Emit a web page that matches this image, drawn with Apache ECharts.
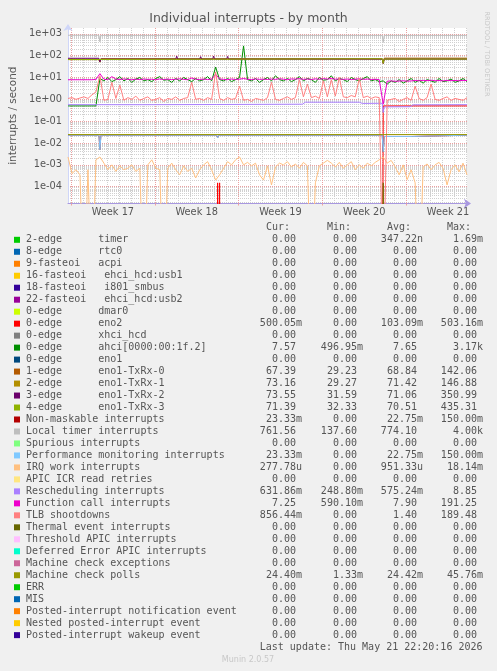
<!DOCTYPE html>
<html>
<head>
<meta charset="utf-8">
<title>Individual interrupts - by month</title>
<script src="https://cdn.jsdelivr.net/npm/echarts@6/dist/echarts.min.js"></script>
<style>
  html, body { margin: 0; padding: 0; background: #f0f0f0; }
  #chart { width: 497px; height: 671px; }
</style>
</head>
<body>
<div id="chart"></div>
<script>
// x values are hours since the left edge of the graph (2 h per pixel)
const weekStarts = [6, 174, 342, 510, 678]
const weekMids = [90, 258, 426, 594, 762]
const weekLabels = ['Week 17', 'Week 18', 'Week 19', 'Week 20', 'Week 21']
const decades = [1e-4, 1e-3, 1e-2, 1e-1, 1, 10, 100, 1000]

// dense series: one sample every 8 hours
const hours = []
for (let h = 0; h <= 800; h += 8) hours.push(h)

const ahciRate = [
  0.5, 0.5, 0.5, 0.5, 0.5, 0.5, 0.5, 0.5, 9, 7,
  10, 6.5, 8, 11, 7, 9, 6, 8.5, 10, 7,
  8, 6.5, 9, 11, 7.5, 8, 6, 9, 7, 10,
  8, 6.5, 9, 7, 8, 11, 7, 30, 8, 7,
  9, 6.5, 8, 10, 280, 8, 7, 9, 6, 8,
  10, 7, 12, 8, 7, 9, 6.5, 8, 11, 7,
  9, 8, 6, 10, 7.5, 8, 12, 7, 9, 8,
  6.5, 10, 8, 7, 9, 11, 7, 8, 6.5, 7,
  5, 7, 6, 8, 5.5, 7, 9, 6, 7.5, 5.5,
  8, 7, 6, 9, 6.5, 7, 8.5, 6, 7, 9,
  6.5
]
const funcCallRate = [
  7.9, 7.9, 7.9, 7.9, 7.9, 7.9, 7.9, 8.2, 15, 8.3,
  8.0, 11, 8.4, 8.1, 8.6, 8.2, 7.9, 8.4, 8.0, 8.5,
  8.2, 8.3, 7.9, 8.6, 8.1, 8.4, 8.0, 8.3, 8.7, 8.2,
  7.9, 9.5, 8.3, 8.1, 8.5, 8.0, 8.4, 14, 8.6, 8.2,
  8.0, 8.5, 8.1, 8.4, 9.0, 8.3, 8.0, 8.6, 8.2, 8.4,
  8.1, 8.5, 8.2, 8.8, 8.3, 8.0, 8.6, 8.4, 9.0, 8.2,
  8.5, 8.1, 8.7, 8.3, 8.9, 8.4, 9.2, 8.3, 8.6, 8.2,
  8.5, 8.0, 8.4, 8.7, 8.2, 8.5, 8.1, 8.3, 8.0, 0.6,
  6.8, 7.0, 6.7, 6.9, 7.1, 6.8, 7.0, 7.3, 7.1, 7.4,
  7.2, 7.5, 7.1, 7.3, 7.0, 7.4, 7.2, 7.3, 7.1, 7.4,
  7.25
]
const tlbRate = [
  1.1, 1.2, 1.0, 1.15, 1.3, 1.1, 1.6, 2.2, 12, 0.9,
  1.0, 6, 1.1, 4.5, 0.9, 1.2, 1.0, 1.4, 0.9, 1.1,
  1.3, 0.9, 1.0, 1.2, 0.8, 1.1, 1.0, 1.3, 0.9, 1.1,
  1.2, 6, 1.0, 1.1, 0.9, 1.2, 1.0, 18, 1.1, 0.9,
  1.2, 1.0, 1.1, 4, 0.9, 1.0, 0.8, 1.1, 1.0, 0.9,
  1.2, 6, 1.0, 0.9, 1.1, 1.3, 1.0, 1.2, 8, 1.3,
  5, 1.2, 1.4, 1.1, 7, 1.3, 8, 1.4, 10, 1.3,
  1.2, 1.5, 1.3, 9, 1.2, 1.4, 1.1, 1.3, 1.2, 0,
  0.9, 1.0, 1.1, 0.8, 1.0, 1.2, 0.9, 4, 1.1, 0.9,
  1.2, 5, 1.0, 0.9, 1.1, 1.3, 0.9, 1.1, 1.0, 0.9,
  1.2
]
const irqWorkRate = [
  2.3e-3, 4e-4, 6e-4, 3.5e-4, 0, 6e-4, 0, 1.7e-3, 2.3e-3, 1.2e-3,
  6e-4, 1e-3, 5e-4, 9e-4, 6e-4, 7e-4, 1e-3, 5e-4, 7e-4, 0,
  1e-3, 1.7e-3, 7e-4, 6e-4, 0, 7e-4, 1.2e-3, 6e-4, 3.5e-4, 9e-4,
  5e-4, 7e-4, 2.5e-4, 6e-4, 1e-3, 1.4e-3, 6e-4, 2e-4, 3.5e-4, 7e-4,
  1.4e-3, 1e-3, 1.7e-3, 2.3e-3, 1e-3, 1.3e-3, 9e-4, 1.2e-3, 3.5e-4, 2e-4,
  9e-4, 1.2e-4, 8e-4, 1.2e-3, 1e-3, 1.4e-3, 8e-4, 1.1e-3, 7e-4, 1.3e-3,
  9e-4, 0, 1.5e-4, 9e-4, 1.2e-3, 1.6e-3, 1.2e-3, 8e-4, 1.3e-3, 7e-4,
  1e-3, 1.4e-3, 6e-4, 1e-3, 7e-4, 1.2e-3, 9e-4, 1.3e-3, 1.7e-3, 2.3e-3,
  1.2e-3, 1.6e-3, 8e-4, 3.5e-4, 1e-3, 2.1e-4, 6e-4, 1.5e-4, 0, 8e-4,
  1.1e-3, 6e-4, 1e-3, 1.3e-3, 7e-4, 1.2e-4, 6e-4, 1e-3, 4.8e-4, 1.2e-3,
  3.5e-4
]

// sparse series: [hour, value]
const timerPts = [[0, 0], [630, 0], [632, 1.5e-4], [634, 0], [800, 0]]
const eno2Pts = [[0, 0], [299, 0], [300, 1.5e-4], [301, 0], [303, 0], [304, 1.5e-4], [305, 0], [631, 0], [632, 0.5], [800, 0.5]]
const txrx0Pts = [[0, 68], [62, 68], [64, 52], [66, 71], [630, 71], [632, 45], [634, 77], [800, 77]]
const txrx1Pts = [[0, 66], [62, 66], [64, 50], [66, 71], [630, 71], [632, 44], [634, 70], [800, 70]]
const txrx2Pts = [[0, 76], [62, 76], [64, 52], [66, 70], [216, 70], [218, 95], [220, 70], [264, 70], [266, 90], [268, 70],
  [290, 70], [292, 95], [294, 70], [318, 70], [320, 92], [322, 70], [384, 70], [386, 80], [388, 70], [414, 70], [416, 80],
  [418, 70], [630, 70], [632, 44], [634, 70], [800, 70]]
const txrx3Pts = [[0, 67], [62, 67], [64, 55], [66, 72], [630, 72], [632, 45], [634, 70], [800, 70]]
const nmiPts = [[0, 0.0228], [62, 0.0228], [64, 0.005], [66, 0.0228], [298, 0.0228], [300, 0.017], [302, 0.0228],
  [630, 0.0228], [632, 0.004], [634, 0.02], [690, 0.02], [692, 0.0228], [800, 0.0228]]
const locPts = [[0, 860], [62, 860], [64, 430], [66, 850], [298, 850], [300, 720], [302, 850], [630, 850], [632, 400], [634, 850], [800, 850]]
const reschedPts = [[0, 0.57], [62, 0.57], [64, 0.7], [66, 0.55], [150, 0.57], [298, 0.58], [300, 0.62], [302, 0.57],
  [470, 0.6], [476, 0.74], [584, 0.74], [590, 0.65], [630, 0.66], [632, 0.25], [634, 0.45], [686, 0.46], [692, 0.56], [800, 0.57]]
const mcpPts = [[0, 0.0244], [62, 0.0244], [64, 0.023], [66, 0.0244], [630, 0.0244], [632, 0.02], [634, 0.0244], [800, 0.0244]]

// legend table
const legendNames = [
  '2-edge      timer', '8-edge      rtc0', '9-fasteoi   acpi', '16-fasteoi   ehci_hcd:usb1',
  '18-fasteoi   i801_smbus', '22-fasteoi   ehci_hcd:usb2', '0-edge      dmar0', '0-edge      eno2',
  '0-edge      xhci_hcd', '0-edge      ahci[0000:00:1f.2]', '0-edge      eno1', '1-edge      eno1-TxRx-0',
  '2-edge      eno1-TxRx-1', '3-edge      eno1-TxRx-2', '4-edge      eno1-TxRx-3', 'Non-maskable interrupts',
  'Local timer interrupts', 'Spurious interrupts', 'Performance monitoring interrupts', 'IRQ work interrupts',
  'APIC ICR read retries', 'Rescheduling interrupts', 'Function call interrupts', 'TLB shootdowns',
  'Thermal event interrupts', 'Threshold APIC interrupts', 'Deferred Error APIC interrupts', 'Machine check exceptions',
  'Machine check polls', 'ERR', 'MIS', 'Posted-interrupt notification event',
  'Nested posted-interrupt event', 'Posted-interrupt wakeup event'
]
const legendColors = [
  '#00CC00', '#0066B3', '#FF8000', '#FFCC00', '#330099', '#990099', '#CCFF00', '#FF0000',
  '#808080', '#008F00', '#00487D', '#B35A00', '#B38F00', '#6B006B', '#8FB300', '#B30000',
  '#BEBEBE', '#80FF80', '#80C9FF', '#FFC080', '#FFE680', '#AA80FF', '#EE00CC', '#FF8080',
  '#666600', '#FFBFFF', '#00FFCC', '#CC6699', '#999900', '#00CC00', '#0066B3', '#FF8000',
  '#FFCC00', '#330099'
]
const curVals = ['0.00', '0.00', '0.00', '0.00', '0.00', '0.00', '0.00', '500.05m', '0.00', '7.57', '0.00', '67.39',
  '73.16', '73.55', '71.39', '23.33m', '761.56', '0.00', '23.33m', '277.78u', '0.00', '631.86m', '7.25', '856.44m',
  '0.00', '0.00', '0.00', '0.00', '24.40m', '0.00', '0.00', '0.00', '0.00', '0.00']
const minVals = ['0.00', '0.00', '0.00', '0.00', '0.00', '0.00', '0.00', '0.00', '0.00', '496.95m', '0.00', '29.23',
  '29.27', '31.59', '32.33', '0.00', '137.60', '0.00', '0.00', '0.00', '0.00', '248.80m', '590.10m', '0.00',
  '0.00', '0.00', '0.00', '0.00', '1.33m', '0.00', '0.00', '0.00', '0.00', '0.00']
const avgVals = ['347.22n', '0.00', '0.00', '0.00', '0.00', '0.00', '0.00', '103.09m', '0.00', '7.65', '0.00', '68.84',
  '71.42', '71.06', '70.51', '22.75m', '774.10', '0.00', '22.75m', '951.33u', '0.00', '575.24m', '7.90', '1.40',
  '0.00', '0.00', '0.00', '0.00', '24.42m', '0.00', '0.00', '0.00', '0.00', '0.00']
const maxVals = ['1.69m', '0.00', '0.00', '0.00', '0.00', '0.00', '0.00', '503.16m', '0.00', '3.17k', '0.00', '142.06',
  '146.88', '350.99', '435.31', '150.00m', '4.00k', '0.00', '150.00m', '18.14m', '0.00', '8.85', '191.25', '189.48',
  '0.00', '0.00', '0.00', '0.00', '45.76m', '0.00', '0.00', '0.00', '0.00', '0.00']

const SANS = '"DejaVu Sans"'
const MONO = '"DejaVu Sans Mono"'
const Y_MIN = 1.7e-5
const Y_MAX = 1850
const FLOOR = 1e-9 // zero can't be shown on a log axis, push it below the plot

function dense(values) {
  return hours.map((h, i) => [h, values[i] > 0 ? values[i] : FLOOR])
}
function sparse(points) {
  return points.map(p => [p[0], p[1] > 0 ? p[1] : FLOOR])
}

// legend index -> data
const plotted = [
  [0, sparse(timerPts)],
  [7, sparse(eno2Pts)],
  [9, dense(ahciRate)],
  [11, sparse(txrx0Pts)],
  [12, sparse(txrx1Pts)],
  [13, sparse(txrx2Pts)],
  [14, sparse(txrx3Pts)],
  [15, sparse(nmiPts)],
  [16, sparse(locPts)],
  [18, sparse(nmiPts)],
  [19, dense(irqWorkRate)],
  [21, sparse(reschedPts)],
  [22, dense(funcCallRate)],
  [23, dense(tlbRate)],
  [28, sparse(mcpPts)]
]

// grid line positions
const dayLines = []
for (let h = 6; h < 800; h += 24) dayLines.push(h)
const minorLines = []
for (let e = -5; e <= 3; e++) {
  for (let m = 2; m <= 9; m++) {
    const v = m * Math.pow(10, e)
    if (v > Y_MIN && v < Y_MAX) minorLines.push(v)
  }
}

function fmtExp(v) {
  return Number(v).toExponential(0).replace(/e([+-])(\d)$/, (m, s, d) => 'e' + s + '0' + d)
}
function withUnit(s) {
  return /\d$/.test(s) ? s + ' ' : s
}

const chart = echarts.init(document.getElementById('chart'))

const graphics = []
const colRight = [302, 363, 423, 483]
const headers = ['Cur:', 'Min:', 'Avg:', 'Max:']
const headerLeft = [266, 327, 387, 447]
headers.forEach((t, c) => {
  graphics.push({
    type: 'text', x: headerLeft[c], y: 227.5,
    style: { text: t, font: '10px ' + MONO, fill: '#555', verticalAlign: 'middle', textVerticalAlign: 'middle' }
  })
})
legendNames.forEach((name, i) => {
  const y = 239.8 + i * 11.98
  graphics.push({ type: 'rect', shape: { x: 14, y: y - 3, width: 6, height: 6 }, style: { fill: legendColors[i] } })
  graphics.push({
    type: 'text', x: 26, y: y,
    style: { text: name, font: '10px ' + MONO, fill: '#555', verticalAlign: 'middle', textVerticalAlign: 'middle' }
  })
  const cols = [curVals, minVals, avgVals, maxVals]
  cols.forEach((col, c) => {
    graphics.push({
      type: 'text', x: colRight[c], y: y,
      style: {
        text: withUnit(col[i]), font: '10px ' + MONO, fill: '#555',
        align: 'right', textAlign: 'right', verticalAlign: 'middle', textVerticalAlign: 'middle'
      }
    })
  })
})
graphics.push({
  type: 'text', x: 482.5, y: 647.3,
  style: {
    text: 'Last update: Thu May 21 22:20:16 2026', font: '10px ' + MONO, fill: '#555',
    align: 'right', textAlign: 'right', verticalAlign: 'middle', textVerticalAlign: 'middle'
  }
})
graphics.push({
  type: 'text', x: 248, y: 660,
  style: {
    text: 'Munin 2.0.57', font: '8px ' + SANS, fill: '#c8c8c8',
    align: 'center', textAlign: 'center', verticalAlign: 'middle', textVerticalAlign: 'middle'
  }
})
graphics.push({
  type: 'text', x: 487, y: 54, rotation: -Math.PI / 2,
  style: {
    text: 'RRDTOOL / TOBI OETIKER', font: '6.6px ' + SANS, fill: '#c8c8c8',
    align: 'center', textAlign: 'center', verticalAlign: 'middle', textVerticalAlign: 'middle'
  }
})

const option = {
  animation: false,
  backgroundColor: '#f0f0f0',
  title: {
    text: 'Individual interrupts - by month',
    left: 'center',
    top: 7,
    textStyle: { fontFamily: SANS, fontSize: 12.5, fontWeight: 'normal', color: '#555' }
  },
  grid: {
    left: 67, top: 28, right: 30, bottom: 467.5,
    show: true, backgroundColor: '#ffffff', borderWidth: 0
  },
  xAxis: [
    {
      type: 'value', min: 0, max: 800, z: 0, position: 'bottom',
      axisLine: { show: false },
      axisTick: { show: false, customValues: dayLines },
      axisLabel: { show: false },
      splitLine: { show: true, lineStyle: { color: '#d0d0d0', type: [1, 1] } }
    },
    {
      type: 'value', min: 0, max: 800, z: 1, position: 'bottom',
      axisLine: {
        show: true, onZero: false, lineStyle: { color: '#a898e0' },
        symbol: ['none', 'arrow'], symbolSize: [7, 7], symbolOffset: [0, 4]
      },
      axisTick: { show: true, length: 2, lineStyle: { color: '#f0a0a0' }, customValues: weekStarts },
      axisLabel: {
        customValues: weekMids, margin: 4,
        formatter: v => weekLabels[weekMids.indexOf(v)],
        fontFamily: SANS, fontSize: 9.8, color: '#555'
      },
      splitLine: { show: true, lineStyle: { color: '#eba0a0', type: [1, 1] } }
    }
  ],
  yAxis: [
    {
      type: 'log', logBase: 10, min: Y_MIN, max: Y_MAX, z: 0, position: 'left',
      axisLine: { show: false },
      axisTick: { show: false, customValues: minorLines },
      axisLabel: { show: false },
      splitLine: { show: true, lineStyle: { color: '#d0d0d0', type: [1, 1] } }
    },
    {
      type: 'log', logBase: 10, min: Y_MIN, max: Y_MAX, position: 'left', z: 1,
      name: 'interrupts / second', nameLocation: 'middle', nameGap: 50, nameRotate: 90,
      nameTextStyle: { fontFamily: SANS, fontSize: 10.4, color: '#555' },
      axisLine: {
        show: true, onZero: false, lineStyle: { color: '#cfd6f8' },
        symbol: ['none', 'arrow'], symbolSize: [7, 7], symbolOffset: [0, 4]
      },
      axisTick: { show: false, customValues: decades },
      axisLabel: {
        customValues: decades, margin: 6, formatter: fmtExp,
        fontFamily: SANS, fontSize: 9.8, color: '#555'
      },
      splitLine: { show: true, lineStyle: { color: '#eba0a0', type: [1, 1] } }
    }
  ],
  series: plotted.map(([idx, data]) => ({
    name: legendNames[idx],
    type: 'line',
    xAxisIndex: 1,
    yAxisIndex: 1,
    data: data,
    showSymbol: false,
    symbol: 'none',
    clip: true,
    color: legendColors[idx],
    lineStyle: { width: 1, color: legendColors[idx] },
    silent: true
  })),
  graphic: { elements: graphics }
}

chart.setOption(option)
</script>
</body>
</html>
